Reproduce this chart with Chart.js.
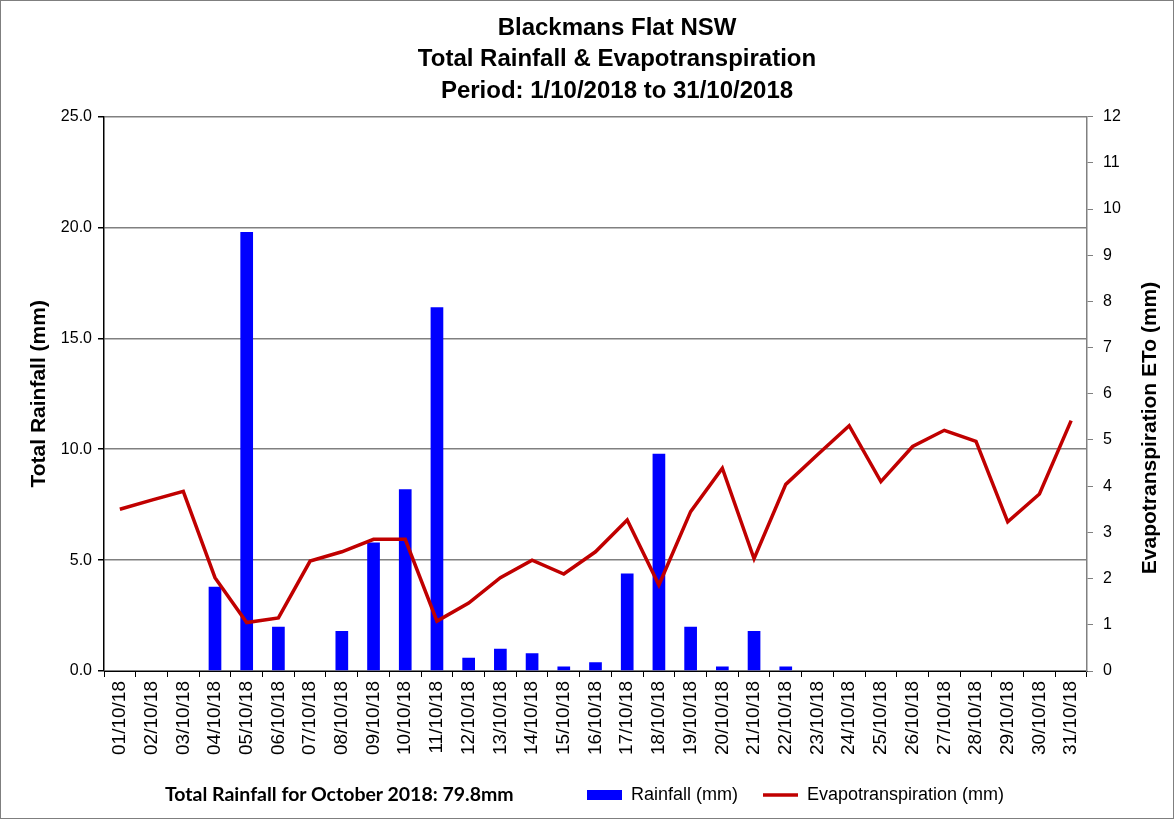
<!DOCTYPE html>
<html>
<head>
<meta charset="utf-8">
<script src="https://cdn.jsdelivr.net/npm/chart.js@4/dist/chart.umd.min.js"></script>
<style>
  html, body { margin: 0; padding: 0; background: #fff; }
  #wrap { position: relative; width: 1174px; height: 819px; }
  #frame { position: absolute; left: 0; top: 0; width: 1172px; height: 817px; border: 1px solid #7f7f7f; pointer-events: none; }
  #total { position: absolute; left: 165px; top: 782px; font: bold 19.5px Lato, 'Liberation Sans', Arial, sans-serif; color: #000; white-space: nowrap; }
  canvas { position: absolute; left: 0; top: 0; }
</style>
</head>
<body>
<div id="wrap">
  <canvas id="c" width="1174" height="819"></canvas>
  <div id="total">Total Rainfall for October 2018: 79.8mm</div>
  <div id="frame"></div>
</div>
<script>
const categories = ['01/10/18','02/10/18','03/10/18','04/10/18','05/10/18','06/10/18','07/10/18','08/10/18','09/10/18','10/10/18','11/10/18','12/10/18','13/10/18','14/10/18','15/10/18','16/10/18','17/10/18','18/10/18','19/10/18','20/10/18','21/10/18','22/10/18','23/10/18','24/10/18','25/10/18','26/10/18','27/10/18','28/10/18','29/10/18','30/10/18','31/10/18'];
const rainfall = [0,0,0,3.8,19.8,2.0,0,1.8,5.8,8.2,16.4,0.6,1.0,0.8,0.2,0.4,4.4,9.8,2.0,0.2,1.8,0.2,0,0,0,0,0,0,0,0,0];
const evapotranspiration = [3.50,3.70,3.89,2.02,1.05,1.15,2.38,2.58,2.85,2.85,1.08,1.47,2.02,2.40,2.10,2.58,3.27,1.86,3.45,4.39,2.43,4.04,4.68,5.31,4.10,4.86,5.21,4.97,3.23,3.83,5.42];
const titleLines = ['Blackmans Flat NSW','Total Rainfall & Evapotranspiration','Period: 1/10/2018 to 31/10/2018'];
const leftTitle = 'Total Rainfall (mm)';
const rightTitle = 'Evapotranspiration ETo (mm)';

const FONT = "'Liberation Sans', Arial, sans-serif";
Chart.defaults.font.family = FONT;
Chart.defaults.color = '#000';

const tweak = {
  id: 'tweak',
  afterLayout(chart) {
    const t = chart.titleBlock;
    if (t) { t.left += 30; t.right += 30; }
    const lg = chart.legend;
    if (lg) {
      const w = lg.right - lg.left;
      lg.left = 562; lg.right = 562 + w;
      lg.top = 761; lg.bottom = 761 + lg.height;
    }
  },
  afterDraw(chart) {
    const ctx = chart.ctx;
    ctx.save();
    ctx.translate(1150, 428);
    ctx.rotate(-Math.PI / 2);
    ctx.font = 'bold 21px ' + FONT;
    ctx.fillStyle = '#000';
    ctx.textAlign = 'center';
    ctx.textBaseline = 'middle';
    ctx.fillText(rightTitle, 0, 0);
    ctx.restore();
  }
};

new Chart(document.getElementById('c'), {
  data: {
    labels: categories,
    datasets: [
      {
        type: 'bar',
        label: 'Rainfall (mm)',
        data: rainfall,
        backgroundColor: '#0000FF',
        borderWidth: 0,
        barPercentage: 0.4,
        categoryPercentage: 1.0,
        yAxisID: 'y',
        order: 2,
        pointStyle: 'rect'
      },
      {
        type: 'line',
        label: 'Evapotranspiration (mm)',
        data: evapotranspiration,
        borderColor: '#C00000',
        backgroundColor: '#C00000',
        borderWidth: 3.5,
        pointRadius: 0,
        tension: 0,
        yAxisID: 'y1',
        order: 1,
        pointStyle: 'line'
      }
    ]
  },
  options: {
    responsive: false,
    animation: false,
    devicePixelRatio: 1,
    layout: { padding: 0 },
    plugins: {
      tooltip: { enabled: false },
      title: {
        display: true,
        text: titleLines,
        font: { family: FONT, size: 24, weight: 'bold', lineHeight: 1.3 },
        color: '#000',
        padding: { top: 13, bottom: 10 }
      },
      legend: {
        display: true,
        position: 'bottom',
        align: 'start',
        labels: {
          usePointStyle: true,
          pointStyleWidth: 35,
          boxHeight: 10,
          padding: 25,
          color: '#000',
          font: { family: FONT, size: 18 },
          sort: (a, b) => a.datasetIndex - b.datasetIndex
        }
      }
    },
    scales: {
      x: {
        offset: true,
        grid: { display: true, offset: true, drawOnChartArea: false, drawTicks: true, tickLength: 6, color: '#000' },
        border: { display: true, color: '#000', width: 1 },
        ticks: { minRotation: 90, maxRotation: 90, autoSkip: false, padding: 4, font: { family: FONT, size: 19 }, color: '#000' },
        afterFit(scale) { scale.height = 95; }
      },
      y: {
        position: 'left',
        min: 0, max: 25,
        ticks: { stepSize: 5, callback: v => Number(v).toFixed(1), padding: 6, font: { family: FONT, size: 16 }, color: '#000' },
        grid: { color: '#808080', lineWidth: 1.5, tickLength: 6, tickColor: '#000' },
        border: { display: true, color: '#000', width: 1.5 },
        title: { display: true, text: leftTitle, font: { family: FONT, size: 21, weight: 'bold' }, color: '#000', padding: { top: 27, bottom: 0 } },
        afterFit(scale) { scale.width = 104; }
      },
      y1: {
        position: 'right',
        min: 0, max: 12,
        ticks: { stepSize: 1, padding: 10, font: { family: FONT, size: 16 }, color: '#000' },
        grid: { drawOnChartArea: false, tickLength: 6, color: '#808080' },
        border: { display: true, color: '#808080', width: 1.5 },
        afterFit(scale) { scale.width = 87; }
      }
    }
  },
  plugins: [tweak]
});
</script>
</body>
</html>
